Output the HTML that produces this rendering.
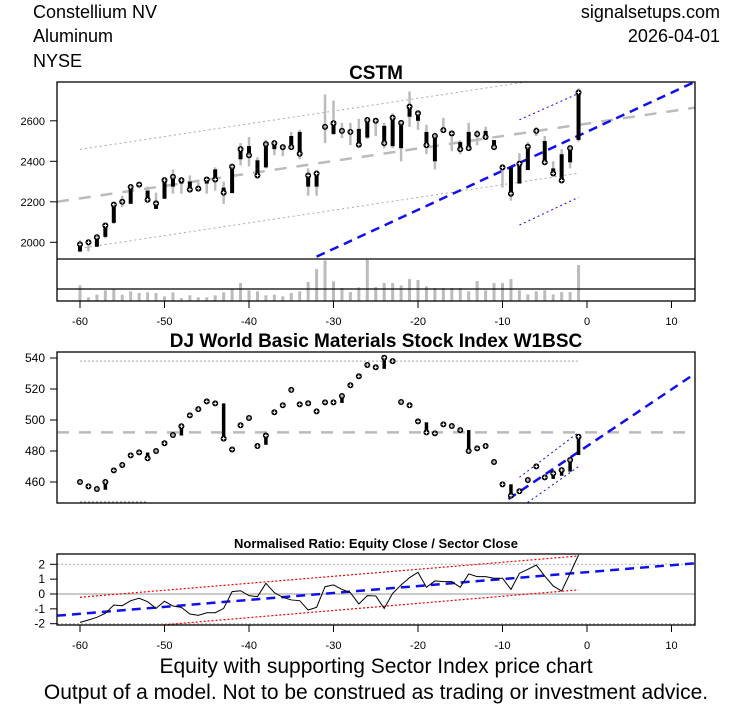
<!DOCTYPE html>
<html><head><meta charset="utf-8"><style>
body{margin:0;background:#fff;}
svg{display:block;font-family:"Liberation Sans",sans-serif;}
</style></head><body>
<svg id="c" width="753" height="708" viewBox="0 0 753 708">
<text x="33" y="18" font-size="18">Constellium NV</text>
<text x="33" y="42" font-size="18">Aluminum</text>
<text x="33" y="67" font-size="18">NYSE</text>
<text x="720" y="18" font-size="18" text-anchor="end">signalsetups.com</text>
<text x="720" y="42" font-size="18" text-anchor="end">2026-04-01</text>
<text x="376" y="79" font-size="19" font-weight="bold" text-anchor="middle">CSTM</text>
<text x="376" y="347" font-size="19" font-weight="bold" text-anchor="middle">DJ World Basic Materials Stock Index W1BSC</text>
<text x="376" y="548" font-size="13" font-weight="bold" text-anchor="middle">Normalised Ratio: Equity Close / Sector Close</text>
<text x="376" y="673" font-size="21" text-anchor="middle">Equity with supporting Sector Index price chart</text>
<text x="376" y="699" font-size="21" text-anchor="middle">Output of a model. Not to be construed as trading or investment advice.</text>
<defs>
<clipPath id="cp1"><rect x="57" y="82" width="638" height="177"/></clipPath>
<clipPath id="cp2"><rect x="57" y="352" width="638" height="151"/></clipPath>
<clipPath id="cp3"><rect x="57" y="554" width="638" height="71"/></clipPath>
</defs>
<g id="g1" clip-path="url(#cp1)"></g>
<g id="gv"></g>
<g id="g2" clip-path="url(#cp2)"></g>
<g id="g3" clip-path="url(#cp3)"></g>
<g id="ga"></g>
</svg>
<script>
const days = [];
for (let d = -60; d <= -1; d++) days.push(d);
const eqOpen  = [1955,2000,1978,2027,2096,2190,2190,2285,2255,2165,2215,2275,2290,2300,2265,2290,2360,2270,2243,2410,2475,2405,2370,2460,2470,2525,2545,2275,2275,2570,2535,2550,2540,2560,2517,2600,2575,2475,2465,2620,2600,2545,2400,2554,2525,2495,2545,2535,2550,2505,2370,2370,2290,2357,2550,2500,2365,2435,2395,2505];
const eqClose = [1990,2000,2025,2083,2186,2200,2273,2285,2210,2192,2307,2323,2307,2260,2265,2310,2310,2245,2373,2460,2430,2330,2485,2490,2470,2470,2437,2330,2340,2570,2588,2550,2545,2482,2604,2600,2490,2615,2590,2670,2637,2480,2525,2554,2538,2460,2465,2535,2520,2470,2370,2240,2388,2472,2550,2395,2340,2305,2465,2740];
const eqHigh  = [2010,2000,2040,2085,2190,2230,2275,2295,2275,2245,2310,2360,2315,2330,2295,2315,2370,2300,2375,2490,2520,2420,2505,2500,2480,2545,2555,2365,2355,2730,2700,2590,2590,2610,2608,2605,2590,2637,2595,2745,2645,2580,2535,2615,2545,2505,2590,2555,2570,2505,2385,2370,2440,2495,2570,2525,2400,2460,2472,2760];
const eqLow   = [1950,1955,1978,2020,2090,2175,2190,2270,2210,2165,2215,2240,2240,2250,2260,2240,2255,2190,2243,2380,2375,2325,2365,2430,2425,2460,2410,2230,2230,2490,2530,2515,2480,2470,2510,2525,2465,2465,2400,2570,2555,2435,2360,2540,2450,2435,2455,2480,2515,2465,2270,2205,2290,2355,2525,2390,2335,2305,2365,2497];
const eqVolume = [47,11,19,32,36,19,29,24,26,24,14,26,9,17,11,11,17,26,36,54,32,29,17,19,14,24,29,57,96,122,59,39,27,41,124,42,54,54,47,66,63,44,39,39,39,39,29,60,32,54,54,66,32,20,29,32,20,27,27,108];
const eqTicks = [2000,2200,2400,2600];
const secClose = [460,457.2,455.5,460,467.5,471,477.2,479.1,475.3,480,485,490.3,496,503,507,512,510.7,488,481,496.6,501.3,483.2,490,505,509.5,519.4,510.1,510.8,505.6,511.4,511.4,515.5,522.4,528.2,535.5,534,540.2,538,511.6,509.5,499.1,492,491.4,497.2,496.1,493.5,480,481.7,483.2,472.9,458.5,451.2,454,461.3,470.1,463,465.6,467.7,474.2,489.2];
const secOpen  = [460,457.2,455.5,455,467.5,471,477.2,479.1,479,480,485,490.3,490,503,507,512,510.7,510.7,481,496.6,501.3,483.2,484,505,509.5,519.4,510.1,510.8,505.6,511.4,511.4,511,522.4,528.2,535.5,534,533,538,511.6,509.5,499.1,498.5,491.4,497.2,496.1,493.5,493.5,481.7,483.2,472.9,458.5,458.5,454,461.3,470.1,463,462,464,466.7,477.4];
const secTicks = [460,480,500,520,540];
const ratio = [-1.91,-1.75,-1.57,-1.30,-0.74,-0.79,-0.45,-0.29,-0.52,-0.97,-0.49,-0.81,-0.90,-1.35,-1.44,-1.26,-1.26,-0.97,0.16,0.22,-0.11,-0.18,0.72,0.09,-0.22,-0.40,-0.45,-1.08,-0.90,0.49,0.61,0.31,0.09,-0.67,-0.11,-0.13,-0.97,0.04,0.61,1.10,1.46,0.45,0.88,0.83,0.83,0.45,1.35,1.17,1.17,1.06,1.06,0.31,1.39,1.66,1.95,1.21,0.54,0.20,1.39,2.63];
const ratioTicks = [-2,-1,0,1,2];
const xTicks = [-60,-50,-40,-30,-20,-10,0,10];

const X = d => 587 + 8.45*d;
const Y1 = v => 242.3 - (v-2000)*0.2025;
const YV = v => 301 - v*0.333;
const Y2 = v => 482 - (v-460)*1.55;
const Y3 = v => 594 - v*14.85;
const NS = "http://www.w3.org/2000/svg";
function mk(p, tag, at) { const e = document.createElementNS(NS, tag); for (const k in at) e.setAttribute(k, at[k]); p.appendChild(e); return e; }
const g1 = document.getElementById('g1'), gv = document.getElementById('gv'), g2 = document.getElementById('g2'), g3 = document.getElementById('g3'), ga = document.getElementById('ga');
function ln(p, x1, y1, x2, y2, st, w, da) { return mk(p, 'line', {x1, y1, x2, y2, stroke: st, 'stroke-width': w, 'stroke-dasharray': da || 'none'}); }
function marker(p, x, y, name) {
  const g = mk(p, 'g', {});
  
  
  mk(g, 'circle', {cx: x, cy: y, r: 3, fill: '#000'});
  mk(g, 'line', {x1: x - 1.8, y1: y, x2: x + 1.8, y2: y, stroke: '#fff', 'stroke-width': 0.9});
  mk(g, 'line', {x1: x, y1: y - 1.8, x2: x, y2: y + 1.8, stroke: '#fff', 'stroke-width': 0.9});
}

let e;
e = ln(g1, X(-60), Y1(2459), X(-1), Y1(2831), '#aaa', 1, '2,3');
 
e = ln(g1, X(-60), Y1(1970), X(-1), Y1(2341), '#aaa', 1, '2,3');
 
e = ln(g1, 57, Y1(2200), 695, Y1(2665), '#bbb', 2.5, '12,10');
 
e = ln(g1, X(-32), Y1(1929), X(12.5), Y1(2787), '#1010ee', 2.5, '9,6');
 
e = ln(g1, X(-8), Y1(2605), X(-1), Y1(2735), '#1010ee', 1, '2,3');
 
e = ln(g1, X(-8), Y1(2085), X(-1), Y1(2222), '#1010ee', 1, '2,3');
 

days.forEach((d, i) => {
  const x = X(d);
  let w = ln(g1, x, Y1(eqHigh[i]), x, Y1(eqLow[i]), '#bbb', 2.5);
   
  let b = ln(g1, x, Y1(eqOpen[i]), x, Y1(eqClose[i]), '#000', 4);
   
  marker(g1, x, Y1(eqClose[i]), 'close-marker');
  let v = ln(gv, x, 301, x, YV(eqVolume[i]), '#bbb', 3);
   
});

e = ln(g2, X(-60), Y2(538), X(-1), Y2(538), '#aaa', 1, '2,2');
 
e = ln(g2, X(-60), Y2(447), X(-52), Y2(447), '#888', 1.5, '2,2');
 
e = ln(g2, 57, Y2(492), 695, Y2(492), '#bbb', 2.5, '12,10');
 
e = ln(g2, X(-9.3), Y2(449), X(12.8), Y2(530), '#1010ee', 2.5, '9,6');
 
e = ln(g2, X(-8), Y2(463), X(-1), Y2(492), '#1010ee', 1, '2,3');
 
e = ln(g2, X(-8), Y2(443), X(-1), Y2(470), '#1010ee', 1, '2,3');
 
days.forEach((d, i) => {
  const x = X(d);
  if (secOpen[i] !== secClose[i]) {
    let b = ln(g2, x, Y2(secOpen[i]), x, Y2(secClose[i]), '#000', 3.5);
     
  }
  marker(g2, x, Y2(secClose[i]), 'sector-close-marker');
});

[2, -2].forEach(v => { let l = ln(g3, 57, Y3(v), 695, Y3(v), '#aaa', 1, '2,2');   });
e = ln(g3, 57, Y3(0), 695, Y3(0), '#aaa', 1.2);
 
e = ln(g3, X(-60), Y3(-0.22), X(-1), Y3(2.56), '#e00', 1.2, '2,2');
 
e = ln(g3, X(-60), Y3(-2.55), X(-1), Y3(0.28), '#e00', 1.2, '2,2');
 
e = ln(g3, 57, Y3(-1.46), 695, Y3(2.07), '#1010ee', 2.5, '9,6');
 
const pl = mk(g3, 'polyline', {points: days.map((d, i) => X(d) + ',' + Y3(ratio[i])).join(' '), fill: 'none', stroke: '#000', 'stroke-width': 1});
 

[[57,82,638,219],[57,352,638,151],[57,554,638,71]].forEach(r => { let f = mk(ga, 'rect', {x: r[0], y: r[1], width: r[2], height: r[3], fill: 'none', stroke: '#000', 'stroke-width': 1.3});   });
e = ln(ga, 57, 259, 695, 259, '#000', 1.3);
 
e = ln(ga, 57, 289, 695, 289, '#000', 1.3);
 
function yt(vals, f, name, fs) {
  vals.forEach(v => {
    let t = ln(ga, 50, f(v), 57, f(v), '#000', 1);
     
    let s = mk(ga, 'text', {x: 45, y: f(v) + 4, 'font-size': fs, 'text-anchor': 'end'});
    s.textContent = v;
     
  });
}
yt(eqTicks, Y1, 'equity-y', 11);
yt(secTicks, Y2, 'sector-y', 12);
yt(ratioTicks, Y3, 'ratio-y', 12);
function xt(y0, name) {
  xTicks.forEach(v => {
    let t = ln(ga, X(v), y0, X(v), y0 + 7, '#000', 1);
     
    let s = mk(ga, 'text', {x: X(v), y: y0 + 24, 'font-size': 11, 'text-anchor': 'middle'});
    s.textContent = v;
     
  });
}
xt(301, 'equity-x');
xt(625, 'ratio-x');
</script>
</body></html>
